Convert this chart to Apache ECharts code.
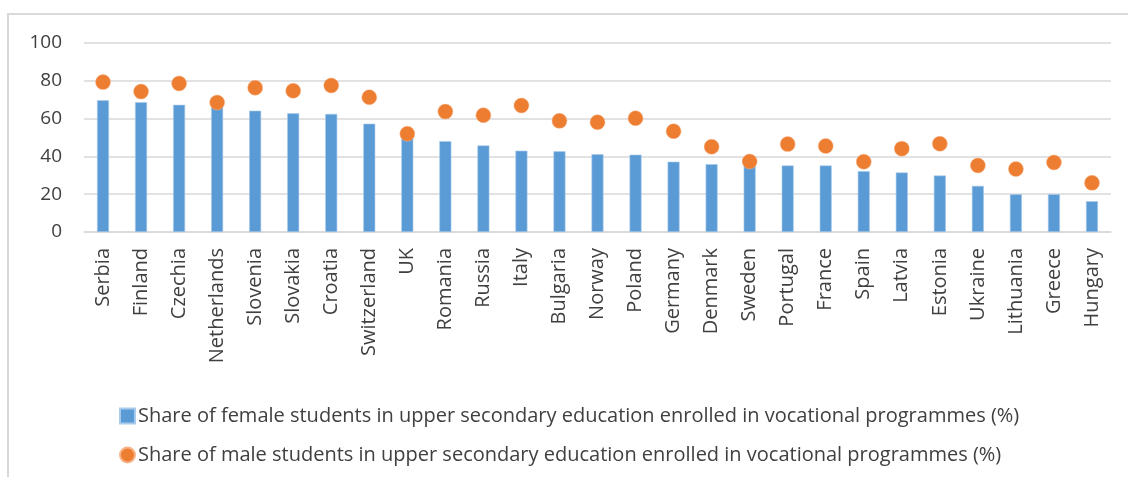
<!DOCTYPE html>
<html>
<head>
<meta charset="utf-8">
<script src="https://cdn.jsdelivr.net/npm/echarts@6/dist/echarts.min.js"></script>
<style>
  html, body { margin: 0; padding: 0; background: #fff; }
  #frame { position: absolute; left: 7px; top: 13px; width: 1200px; height: 500px;
           border-left: 2px solid #D9D9D9; border-top: 2px solid #D9D9D9; }
  #chart { position: absolute; left: 0; top: 0; width: 1128px; height: 477px; }
</style>
</head>
<body>
<div id="frame"></div>
<div id="chart"></div>
<script>
// Countries, sorted by the female share
const countries = ['Serbia', 'Finland', 'Czechia', 'Netherlands', 'Slovenia', 'Slovakia', 'Croatia',
  'Switzerland', 'UK', 'Romania', 'Russia', 'Italy', 'Bulgaria', 'Norway', 'Poland', 'Germany',
  'Denmark', 'Sweden', 'Portugal', 'France', 'Spain', 'Latvia', 'Estonia', 'Ukraine', 'Lithuania',
  'Greece', 'Hungary'];

// Share of female students in upper secondary education enrolled in vocational programmes (%)
const femaleShare = [69.7, 68.7, 67.3, 66.5, 64.2, 62.8, 62.5, 57.3, 50.5, 48.1, 45.8, 43.0, 42.7,
  41.2, 40.9, 37.2, 35.9, 35.5, 35.2, 35.2, 32.2, 31.5, 29.9, 24.4, 20.0, 20.0, 16.3];

// Share of male students in upper secondary education enrolled in vocational programmes (%)
const maleShare = [79.3, 74.3, 78.6, 68.5, 76.3, 74.7, 77.5, 71.3, 52.0, 63.7, 61.8, 66.9, 58.8,
  58.1, 60.2, 53.3, 45.1, 37.3, 46.5, 45.5, 37.2, 44.1, 46.7, 35.2, 33.3, 36.8, 26.0];

const yTicks = { min: 0, max: 100, interval: 20 };

const femaleName = 'Share of female students in upper secondary education enrolled in vocational programmes (%)';
const maleName = 'Share of male students in upper secondary education enrolled in vocational programmes (%)';

const FONT = 'Open Sans';
const TEXT = '#404040';
const GRID = '#D9D9D9';

const chart = echarts.init(document.getElementById('chart'), null, { renderer: 'canvas' });
chart.setOption({
  animation: false,
  textStyle: { fontFamily: FONT },
  grid: { left: 84, right: 17, top: 43, height: 189 },
  legend: {
    orient: 'vertical',
    left: 119,
    top: 406,
    padding: 0,
    itemGap: 19,
    itemWidth: 15,
    itemHeight: 15,
    textStyle: { fontFamily: FONT, fontSize: 20, color: TEXT, padding: [0, 0, 0, -2] },
    data: [
      { name: femaleName, icon: 'rect' },
      { name: maleName, icon: 'circle' }
    ]
  },
  xAxis: {
    type: 'category',
    data: countries,
    boundaryGap: true,
    axisLine: { lineStyle: { color: GRID, width: 1.5 } },
    axisTick: { show: false },
    axisLabel: {
      rotate: 90,
      interval: 0,
      margin: 16,
      fontFamily: FONT,
      fontSize: 20,
      color: TEXT
    }
  },
  yAxis: {
    type: 'value',
    min: yTicks.min,
    max: yTicks.max,
    interval: yTicks.interval,
    axisLine: { show: false },
    axisTick: { show: false },
    splitLine: { lineStyle: { color: GRID, width: 1.5 } },
    axisLabel: { fontFamily: FONT, fontSize: 19, color: TEXT, margin: 22 }
  },
  series: [
    {
      name: femaleName,
      type: 'bar',
      data: femaleShare,
      barWidth: 12,
      itemStyle: { color: '#5B9BD5', borderColor: '#A9CBEB', borderWidth: 0.6 },
      z: 2
    },
    {
      name: maleName,
      type: 'scatter',
      data: maleShare,
      symbol: 'circle',
      symbolSize: 15,
      itemStyle: { color: '#ED7D31', borderColor: '#F6B48A', borderWidth: 0.5, opacity: 1 },
      z: 3
    }
  ]
});
</script>
</body>
</html>
